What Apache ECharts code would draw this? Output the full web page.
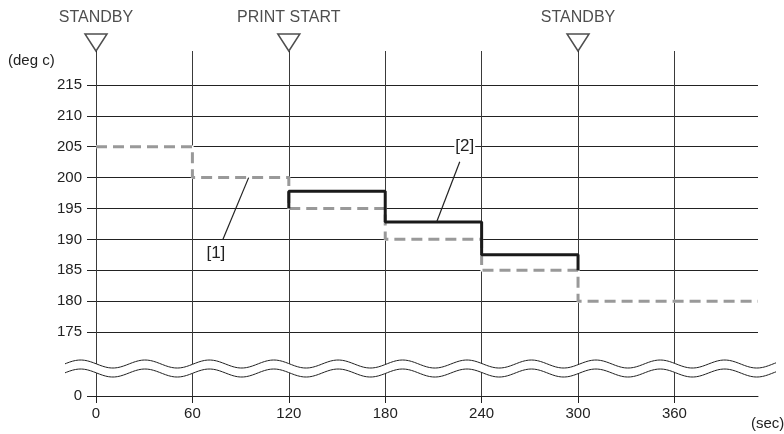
<!DOCTYPE html>
<html>
<head>
<meta charset="utf-8">
<script src="https://cdn.jsdelivr.net/npm/echarts@6/dist/echarts.min.js"></script>
<style>
html, body { margin: 0; padding: 0; background: #fff; }
#main { width: 784px; height: 434px; }
</style>
</head>
<body>
<div id="main"></div>
<script>
// data
var timeTicks = [0, 60, 120, 180, 240, 300, 360];
var tempTicks = [0, 175, 180, 185, 190, 195, 200, 205, 210, 215];
var eventTimes = [0, 120, 300];
var eventLabels = ['STANDBY', 'PRINT START', 'STANDBY'];
// [1] set temperature (dashed)
var setTimes = [0, 60, 60, 120, 120, 180, 180, 240, 240, 300, 300, 412];
var setTemps = [205, 205, 200, 200, 195, 195, 190, 190, 185, 185, 180, 180];
// [2] print temperature (solid)
var printTimes = [120, 120, 180, 180, 240, 240, 300, 300];
var printTemps = [195, 197.8, 197.8, 192.8, 192.8, 187.5, 187.5, 185];
// callouts
var calloutLabels = ['[1]', '[2]'];
var calloutTargets = [[95, 200], [212, 192.8]];
var calloutTextAt = [[74.6, 187.7], [229.5, 205]];

// broken axis: 0 sits just under the break
var BREAK_BASE = 164.64;
var Y_MAX = 220.5;
var X_MAX = 412;
function toAxis(v) { return v < 170 ? BREAK_BASE + v : v; }

var FONT = 'Liberation Sans, Arial, sans-serif';
var TXT = '#222';

function zip(xs, ys) {
	return xs.map(function(x, i) { return [x, toAxis(ys[i])]; });
}

var chart = echarts.init(document.getElementById('main'));
var option = {
	animation: false,
	backgroundColor: '#fff',
	grid: { left: 96, right: 26, top: 51, bottom: 38, containLabel: false },
	xAxis: {
		type: 'value', min: 0, max: X_MAX,
		axisLine: { show: true, lineStyle: { color: '#222', width: 1 } },
		axisTick: { show: true, length: 7, customValues: timeTicks, lineStyle: { color: '#222' } },
		axisLabel: { customValues: timeTicks, margin: 10, color: TXT, fontSize: 15, fontFamily: FONT },
		splitLine: { show: true, lineStyle: { color: '#3a3a3a', width: 1 } }
	},
	yAxis: {
		type: 'value', min: BREAK_BASE, max: Y_MAX,
		axisLine: { show: false },
		axisTick: { show: true, length: 9, customValues: tempTicks.map(toAxis), lineStyle: { color: '#222' } },
		axisLabel: {
			customValues: tempTicks.map(toAxis), margin: 14, color: TXT, fontSize: 15, fontFamily: FONT,
			formatter: function(v) { return v < 170 ? '0' : String(Math.round(v)); }
		},
		splitLine: { show: true, lineStyle: { color: '#222', width: 1 } }
	},
	series: [
		{
			// white underlay so the dash gaps hide the grid lines
			name: '[1] base', type: 'line', silent: true, symbol: 'none',
			data: zip(setTimes, setTemps),
			lineStyle: { color: '#fff', width: 3 },
			z: 2
		},
		{
			name: '[1]', type: 'line', silent: true, symbol: 'none',
			data: zip(setTimes, setTemps),
			lineStyle: { color: '#999', width: 3, type: [11, 6] },
			z: 3
		},
		{
			name: '[2]', type: 'line', silent: true, symbol: 'none',
			data: zip(printTimes, printTemps),
			lineStyle: { color: '#1a1a1a', width: 3 },
			z: 4
		},
		{
			name: 'events', type: 'scatter', silent: true, clip: false,
			data: eventTimes.map(function(t) { return [t, Y_MAX]; }),
			symbol: 'path://M0,0L22,0L11,17Z', symbolSize: [22, 17], symbolKeepAspect: false,
			symbolOffset: [0, -8.5],
			itemStyle: { color: '#fff', borderColor: '#222', borderWidth: 1.5 },
			label: {
				show: true, position: 'top', distance: 8, color: TXT, fontSize: 16, fontFamily: FONT,
				formatter: function(p) { return eventLabels[p.dataIndex]; }
			},
			z: 5
		}
	]
};
chart.setOption(option);

// decorations: axis names, axis break, callouts
function px(x, y) { return chart.convertToPixel({ gridIndex: 0 }, [x, toAxis(y)]); }

var y175 = px(0, 175)[1];
function wave(x0, x1, yc) {
	var pts = [];
	for (var x = x0; x <= x1; x += 1.5) {
		pts.push([x, yc - 4 * Math.cos(2 * Math.PI * (x - 145) / 64.4)]);
	}
	return pts;
}
var upper = wave(65, 777, y175 + 32);
var lower = wave(65, 777, y175 + 41);

var graphics = [
	{ type: 'polygon', z: 100, shape: { points: upper.concat(lower.slice().reverse()) }, style: { fill: '#fff' } },
	{ type: 'polyline', z: 101, shape: { points: upper }, style: { stroke: '#222', lineWidth: 1, fill: null } },
	{ type: 'polyline', z: 101, shape: { points: lower }, style: { stroke: '#222', lineWidth: 1, fill: null } },
	{ type: 'text', z: 101, left: 8, top: 53, style: { text: '(deg c)', fill: TXT, font: '15px ' + FONT } },
	{ type: 'text', z: 101, left: 751, top: 416, style: { text: '(sec)', fill: TXT, font: '15px ' + FONT } }
];

var leaderOffsets = [[7, -14], [-5, 15]];
calloutLabels.forEach(function(lbl, i) {
	var a = px(calloutTargets[i][0], calloutTargets[i][1]);
	var t = px(calloutTextAt[i][0], calloutTextAt[i][1]);
	graphics.push({
		type: 'line', z: 101,
		shape: { x1: a[0], y1: a[1], x2: t[0] + leaderOffsets[i][0], y2: t[1] + leaderOffsets[i][1] },
		style: { stroke: '#222', lineWidth: 1.2 }
	});
	graphics.push({
		type: 'text', z: 102, x: t[0], y: t[1],
		style: {
			text: lbl, fill: TXT, font: '17px ' + FONT, align: 'center', verticalAlign: 'middle',
			backgroundColor: '#fff', padding: [0, 1]
		}
	});
});
chart.setOption({ graphic: graphics });
</script>
</body>
</html>
